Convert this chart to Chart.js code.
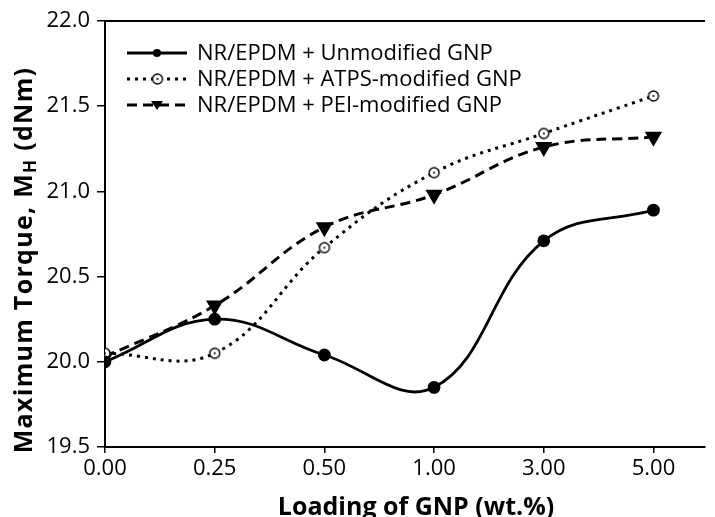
<!DOCTYPE html>
<html>
<head>
<meta charset="utf-8">
<script src="https://cdn.jsdelivr.net/npm/chart.js@4"></script>
<style>
  body { margin: 0; background: #fff; }
  canvas { display: block; }
</style>
</head>
<body>
<canvas id="torque" width="715" height="517"></canvas>
<script>
// GNP loading (wt.%) on the x axis
const loadings = ['0.00', '0.25', '0.50', '1.00', '3.00', '5.00']
// maximum torque MH (dNm)
const unmodified = [20.00, 20.25, 20.04, 19.85, 20.71, 20.89]
const atpsModified = [20.05, 20.05, 20.67, 21.11, 21.34, 21.56]
const peiModified = [20.03, 20.33, 20.79, 20.98, 21.26, 21.32]
const seriesNames = ['NR/EPDM + Unmodified GNP', 'NR/EPDM + ATPS-modified GNP', 'NR/EPDM + PEI-modified GNP']
const yTicks = [19.5, 20.0, 20.5, 21.0, 21.5, 22.0]

const FONT = "'Open Sans', 'DejaVu Sans', sans-serif"
Chart.defaults.font.family = FONT
Chart.defaults.color = '#000'

// open circle with a dot in the middle
let ring = function (r) {
  let c = document.createElement('canvas')
  c.width = c.height = r * 2 + 4
  let g = c.getContext('2d')
  let m = r + 2
  g.beginPath()
  g.arc(m, m, r, 0, Math.PI * 2)
  g.fillStyle = '#fff'
  g.fill()
  g.lineWidth = 1.4
  g.strokeStyle = '#000'
  g.stroke()
  g.beginPath()
  g.arc(m, m, 1, 0, Math.PI * 2)
  g.fillStyle = '#000'
  g.fill()
  return c
}
const ringImg = ring(5)

let toPoints = (arr) => arr.map((v, i) => ({ x: i, y: v }))

const datasets = [
  {
    label: seriesNames[0],
    data: toPoints(unmodified),
    borderColor: '#000',
    backgroundColor: '#000',
    borderWidth: 2.8,
    pointStyle: 'circle',
    pointRadius: 5,
    tension: 0.4,
  },
  {
    label: seriesNames[1],
    data: toPoints(atpsModified),
    borderColor: '#000',
    backgroundColor: '#fff',
    borderWidth: 3,
    borderDash: [3, 5],
    pointStyle: ringImg,
    pointRadius: 6,
    tension: 0.4,
  },
  {
    label: seriesNames[2],
    data: toPoints(peiModified),
    borderColor: '#000',
    backgroundColor: '#000',
    borderWidth: 3,
    borderDash: [10, 6],
    pointStyle: 'triangle',
    pointRotation: 180,
    pointRadius: 7,
    tension: 0.4,
  },
]

// legend inside the plot, axis titles and top frame line
const decorations = {
  id: 'decorations',
  afterDraw(chart) {
    const ctx = chart.ctx
    const area = chart.chartArea
    ctx.save()

    // top frame
    ctx.strokeStyle = '#000'
    ctx.lineWidth = 2
    ctx.beginPath()
    ctx.moveTo(area.left, area.top)
    ctx.lineTo(area.right, area.top)
    ctx.stroke()

    // legend
    chart.data.datasets.forEach((ds, i) => {
      let y = 53 + i * 26
      ctx.setLineDash(ds.borderDash || [])
      ctx.lineWidth = ds.borderWidth
      ctx.beginPath()
      ctx.moveTo(127, y)
      ctx.lineTo(187, y)
      ctx.stroke()
      ctx.setLineDash([])
      if (i === 0) {
        ctx.beginPath()
        ctx.arc(157, y, 4, 0, Math.PI * 2)
        ctx.fillStyle = '#000'
        ctx.fill()
      } else if (i === 1) {
        ctx.drawImage(ringImg, 157 - ringImg.width / 2 + 0.5, y - ringImg.height / 2)
      } else {
        ctx.beginPath()
        ctx.moveTo(151, y - 4)
        ctx.lineTo(163, y - 4)
        ctx.lineTo(157, y + 5)
        ctx.closePath()
        ctx.fillStyle = '#000'
        ctx.fill()
      }
      ctx.fillStyle = '#000'
      ctx.font = '22px ' + FONT
      ctx.textAlign = 'left'
      ctx.textBaseline = 'middle'
      ctx.fillText(ds.label, 197, y + 1)
    })

    // x title
    ctx.font = 'bold 25px ' + FONT
    ctx.textAlign = 'center'
    ctx.textBaseline = 'alphabetic'
    ctx.fillText('Loading of GNP (wt.%)', 416, 515)

    // y title with subscript
    ctx.translate(32, 260)
    ctx.rotate(-Math.PI / 2)
    ctx.letterSpacing = '1.3px'
    let a = 'Maximum Torque, M'
    let s = 'H'
    let b = ' (dNm)'
    ctx.font = 'bold 25px ' + FONT
    let wa = ctx.measureText(a).width
    let wb = ctx.measureText(b).width
    ctx.font = 'bold 17px ' + FONT
    let ws = ctx.measureText(s).width
    let x0 = -(wa + ws + wb) / 2
    ctx.textAlign = 'left'
    ctx.font = 'bold 25px ' + FONT
    ctx.fillText(a, x0, 0)
    ctx.font = 'bold 17px ' + FONT
    ctx.fillText(s, x0 + wa, 4)
    ctx.font = 'bold 25px ' + FONT
    ctx.fillText(b, x0 + wa + ws, 0)

    ctx.restore()
  },
}

const chart = new Chart(document.getElementById('torque').getContext('2d'), {
  type: 'line',
  data: { datasets: datasets },
  options: {
    responsive: false,
    animation: false,
    layout: { padding: { top: 21, right: 0, left: 0, bottom: 0 } },
    plugins: {
      legend: { display: false },
      tooltip: { enabled: false },
    },
    scales: {
      x: {
        type: 'linear',
        min: 0,
        max: 5.47,
        afterBuildTicks: (scale) => {
          scale.ticks = loadings.map((l, i) => ({ value: i }))
        },
        afterFit: (scale) => {
          scale.height = 70
        },
        ticks: {
          callback: (v) => loadings[v],
          font: { size: 22 },
          padding: 3,
          maxRotation: 0,
          autoSkip: false,
        },
        grid: { drawOnChartArea: false, tickLength: 6, color: '#000', lineWidth: 1.5 },
        border: { color: '#000', width: 2 },
      },
      y: {
        min: 19.5,
        max: 22,
        afterBuildTicks: (scale) => {
          scale.ticks = yTicks.map((v) => ({ value: v }))
        },
        afterFit: (scale) => {
          scale.width = 105
        },
        ticks: {
          callback: (v) => v.toFixed(1),
          font: { size: 22 },
          padding: 7,
        },
        grid: { drawOnChartArea: false, tickLength: 8, color: '#000', lineWidth: 1.5 },
        border: { color: '#000', width: 2 },
      },
    },
  },
  plugins: [decorations],
})
</script>
</body>
</html>
